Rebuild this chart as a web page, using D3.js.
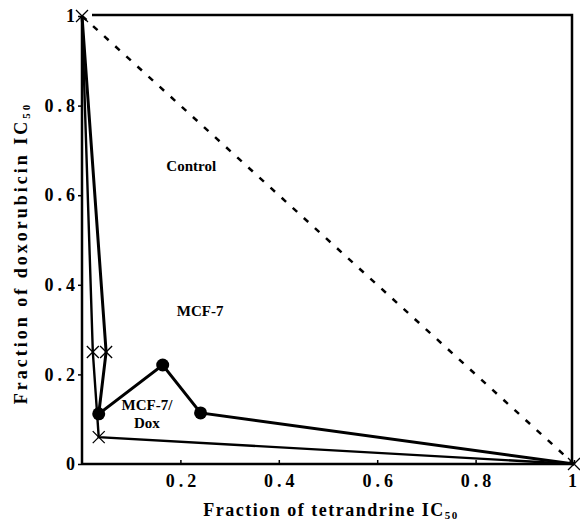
<!DOCTYPE html>
<html>
<head>
<meta charset="utf-8">
<script src="https://cdn.jsdelivr.net/npm/d3@7"></script>
<style>
  body { margin: 0; background: #fff; }
  svg text { font-family: "Liberation Serif", "DejaVu Serif", serif; font-weight: bold; fill: #000; }
</style>
</head>
<body>
<svg id="chart" width="580" height="522"></svg>
<script>
// values
const xTicks = [0.2, 0.4, 0.6, 0.8, 1];
const yTicks = [0, 0.2, 0.4, 0.6, 0.8, 1];

const controlX = [0, 1];
const controlY = [1, 0];

const mcf7X = [0, 0.049, 0.034, 0.164, 0.241, 1];
const mcf7Y = [1, 0.25, 0.112, 0.221, 0.114, 0];
const mcf7Mark = ['none', 'cross', 'dot', 'dot', 'dot', 'cross'];

const doxX = [0, 0.022, 0.034, 1];
const doxY = [1, 0.25, 0.06, 0];
const doxMark = ['cross', 'cross', 'cross', 'none'];

const margin = {top: 16, right: 6, bottom: 58, left: 82};
const W = 580, H = 522;
const width = W - margin.left - margin.right;
const height = H - margin.top - margin.bottom;

const svg = d3.select('#chart');
const g = svg.append('g').attr('transform', `translate(${margin.left}, ${margin.top})`);

const x = d3.scaleLinear().domain([0, 1]).range([0, 492]);
const y = d3.scaleLinear().domain([0, 1]).range([height, 0]);

// frame (top + right)
g.append('path')
    .attr('d', `M10,-1H${width - 2}V${height}`)
    .attr('fill', 'none').attr('stroke', '#000').attr('stroke-width', 2.5);

const xAxis = d3.axisBottom(x).tickValues(xTicks).tickSize(-4).tickPadding(10)
    .tickFormat(d => d === 1 ? '1' : d3.format('.1f')(d));
const yAxis = d3.axisLeft(y).tickValues(yTicks).tickSize(4).tickPadding(3)
    .tickFormat(d => d === 0 || d === 1 ? String(d) : d3.format('.1f')(d));

const xg = g.append('g').attr('transform', `translate(0, ${height})`).call(xAxis);
const yg = g.append('g').call(yAxis);
[xg, yg].forEach(a => {
    a.select('.domain').attr('stroke-width', 2.5).attr('stroke', '#000');
    a.selectAll('.tick line').attr('stroke', '#000').attr('stroke-width', 1.5);
    a.selectAll('.tick text').attr('fill', '#000').style('font-size', '18px')
        .attr('font-family', null);
});
xg.selectAll('.tick text')
    .style('letter-spacing', d => d === 1 ? '0px' : '4px')
    .attr('dx', d => d === 1 ? -2 : 2);
yg.selectAll('.tick text').style('letter-spacing', '4px').attr('dx', 4);
yg.select('.domain').attr('d', `M0,0V${height}`);
xg.select('.domain').attr('d', `M0,0H${x(1)}`);

const line = d3.line().x(d => x(d[0])).y(d => y(d[1]));
const zip = (xs, ys) => xs.map((v, i) => [v, ys[i]]);

// control (additivity) line
g.append('path').datum(zip(controlX, controlY))
    .attr('d', line).attr('fill', 'none').attr('stroke', '#000')
    .attr('stroke-width', 2.5).attr('stroke-dasharray', '6,9');

g.append('path').datum(zip(mcf7X, mcf7Y))
    .attr('d', line).attr('fill', 'none').attr('stroke', '#000').attr('stroke-width', 3);
g.append('path').datum(zip(doxX, doxY))
    .attr('d', line).attr('fill', 'none').attr('stroke', '#000').attr('stroke-width', 2.4);

const drawMarks = (xs, ys, marks) => {
    marks.forEach((m, i) => {
        const cx = x(xs[i]), cy = y(ys[i]);
        if (m === 'dot') {
            g.append('circle').attr('cx', cx).attr('cy', cy).attr('r', 6.5).attr('fill', '#000');
        } else if (m === 'cross') {
            g.append('path')
                .attr('d', `M${cx - 6},${cy - 6}L${cx + 6},${cy + 6}M${cx - 6},${cy + 6}L${cx + 6},${cy - 6}`)
                .attr('stroke', '#000').attr('stroke-width', 1.3);
        }
    });
};
drawMarks(mcf7X, mcf7Y, mcf7Mark);
drawMarks(doxX, doxY, doxMark);

// annotations
const labels = [
    {t: 'Control', x: 0.222, y: 0.655},
    {t: 'MCF-7', x: 0.24, y: 0.33},
    {t: 'MCF-7/', x: 0.132, y: 0.12},
    {t: 'Dox', x: 0.132, y: 0.08}
];
g.selectAll('.lab').data(labels).enter().append('text')
    .attr('x', d => x(d.x)).attr('y', d => y(d.y))
    .attr('text-anchor', 'middle').style('font-size', '15px')
    .text(d => d.t);

// axis titles
const xt = svg.append('text').attr('x', 331).attr('y', 516)
    .attr('text-anchor', 'middle').style('font-size', '18px').style('letter-spacing', '1.5px');
xt.append('tspan').text('Fraction of tetrandrine IC');
xt.append('tspan').text('50').style('font-size', '11px').attr('dy', 3);

const yt = svg.append('text').attr('transform', 'translate(27, 253) rotate(-90)')
    .attr('text-anchor', 'middle').style('font-size', '18px').style('letter-spacing', '3px');
yt.append('tspan').text('Fraction of doxorubicin IC');
yt.append('tspan').text('50').style('font-size', '11px').attr('dy', 3);
</script>
</body>
</html>
